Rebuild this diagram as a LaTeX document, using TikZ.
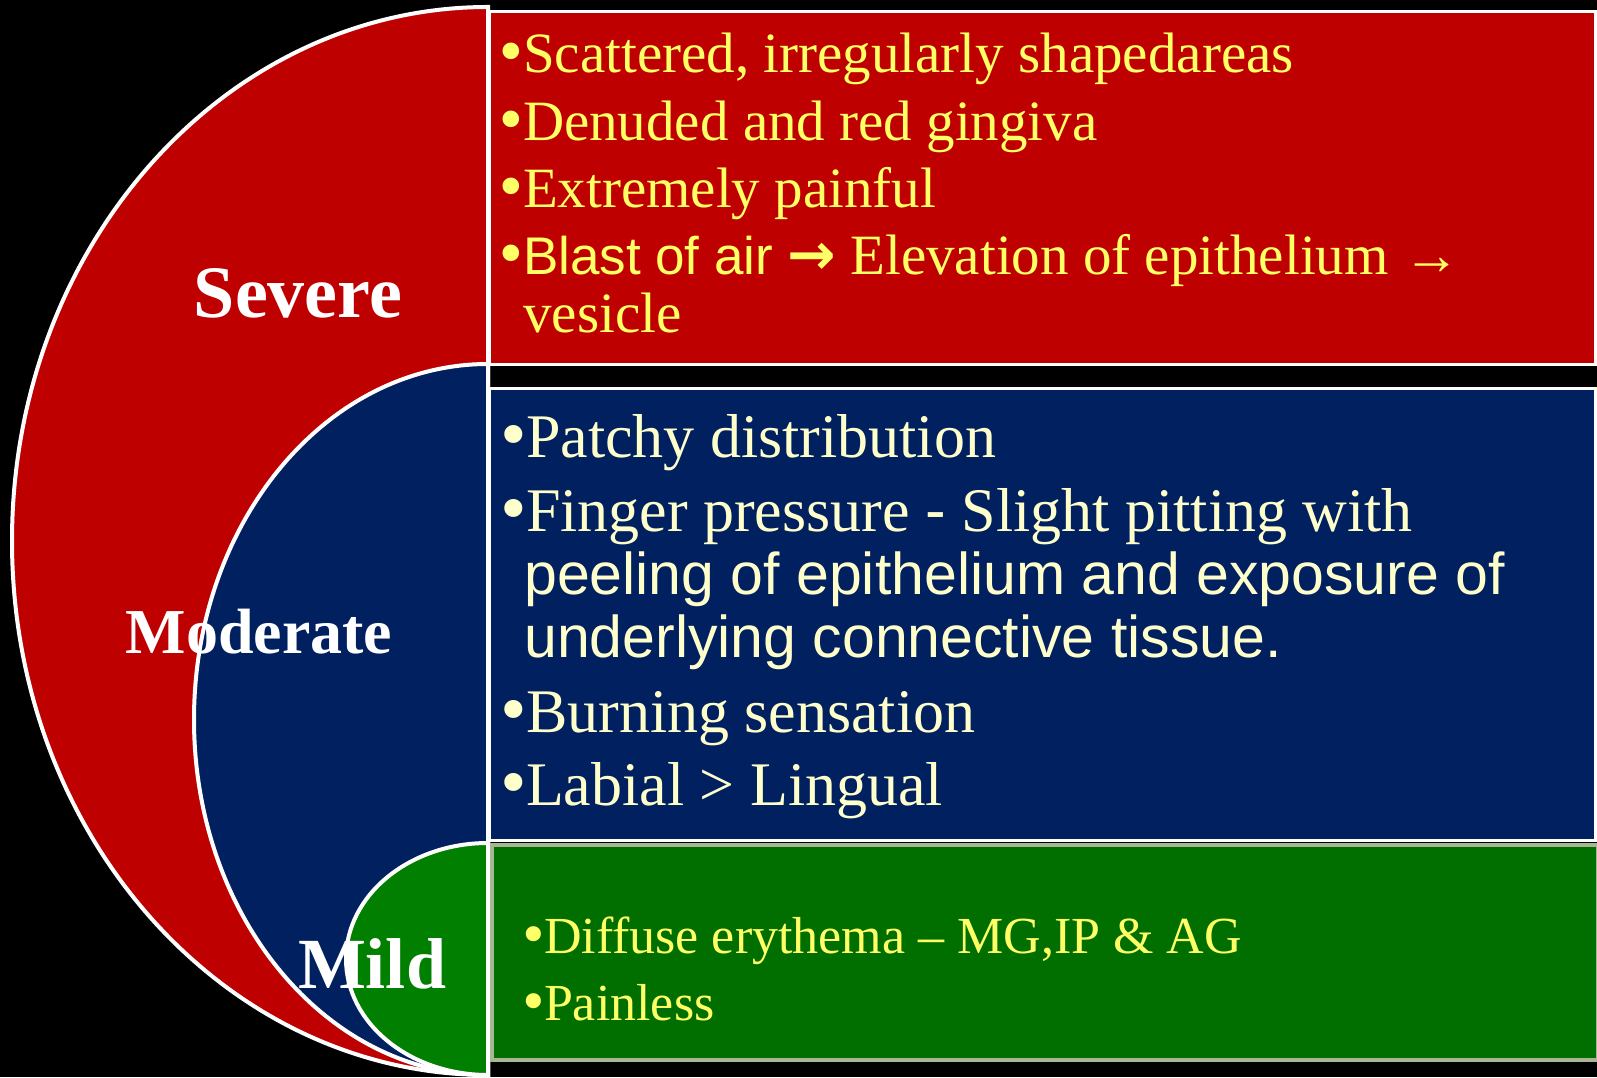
\documentclass[tikz,border=0pt]{standalone}
\usepackage{fontspec}
\setmainfont{Liberation Serif}
\newfontfamily\sansfont{Liberation Sans}
\newfontfamily\arrowfont{DejaVu Sans}
\usetikzlibrary{positioning}

\definecolor{sevred}{HTML}{BE0000}
\definecolor{modblue}{HTML}{002060}
\definecolor{mildgreen}{HTML}{007F00}
\definecolor{mildbox}{HTML}{006F00}
\definecolor{boxedge}{HTML}{A8B696}
\definecolor{txtyellow}{HTML}{FFFF66}
\definecolor{txtcream}{HTML}{FFFFCC}

% larger bullet than the serif font gives
\newcommand{\bul}{\makebox[0.4em][l]{\hspace{-0.1em}{\arrowfont •}}}

\begin{document}
\begin{tikzpicture}[
    x=1pt, y=1pt,
    lobe/.style={
        draw=white,
        line width=4pt
    },
    box/.style={
        draw=white,
        line width=3pt,
        minimum width=1106pt,
        anchor=north west,
        inner sep=0pt
    },
    grade/.style={
        text=white,
        inner sep=0pt,
        anchor=base
    },
    sevtxt/.style={
        anchor=base west, inner sep=0pt,
        text=txtyellow,
        font=\fontsize{57}{61}\selectfont
    },
    modtxt/.style={
        anchor=base west, inner sep=0pt,
        text=txtcream,
        font=\fontsize{62}{66}\selectfont
    },
    modsans/.style={
        modtxt,
        font=\sansfont\fontsize{59}{63}\selectfont
    },
    mildtxt/.style={
        anchor=base west, inner sep=0pt,
        text=txtyellow,
        font=\fontsize{52}{56}\selectfont
    }
]
\useasboundingbox (0,0) rectangle (1597,1077);
\fill[black] (0,0) rectangle (1597,1077);

% Severe: outer lobe and its box
\filldraw[lobe, fill=sevred]
    (488,1070) arc[start angle=90, end angle=270, x radius=476, y radius=534] -- cycle;
\node[box, fill=sevred, minimum height=353pt] (sevbox) at (488,1067) {};

% Moderate: middle lobe and its box
\filldraw[lobe, fill=modblue]
    (488,713) arc[start angle=90, end angle=270, x radius=294, y radius=355.5] -- cycle;
\node[box, fill=modblue, minimum height=452pt] (modbox) at (488,690) {};

% Mild: inner lobe and its box
\filldraw[lobe, fill=mildgreen]
    (488,234) arc[start angle=90, end angle=270, x radius=142, y radius=116] -- cycle;
\node[box, draw=boxedge, line width=4pt, fill=mildbox, minimum height=215pt] (mildbox) at (490,234) {};

% Grade labels
\node[grade, font=\bfseries\fontsize{74}{78}\selectfont] (severe) at (298,759) {Severe};
\node[grade, font=\bfseries\fontsize{64}{68}\selectfont] (moderate) at (259,423) {Moderate};
\node[grade, font=\bfseries\fontsize{72}{76}\selectfont] (mild) at (372,89) {Mild};

% Severe items
\foreach \i/\y/\t in {1/1004/{Scattered, irregularly shapedareas},
                      2/936/{Denuded and red gingiva},
                      3/869/{Extremely painful}} {
    \node[sevtxt] (sev\i) at (500,\y) {\bul\t};
}
\node[sevtxt] (sev4) at (500,802)
    {\bul{\sansfont\fontsize{53}{57}\selectfont Blast of air}
     {\arrowfont\bfseries\fontsize{58}{60}\selectfont →} Elevation of epithelium →};
\node[sevtxt] (sev5) at (523,744) {vesicle};

% Moderate items
\node[modtxt] (mod1) at (501,619) {\bul Patchy distribution};
\node[modtxt] (mod2) at (501,545)
    {\bul Finger pressure {\sansfont -} Slight pitting with};
\node[modsans] (mod3) at (524,482) {peeling of epithelium and exposure of};
\node[modsans] (mod4) at (524,419) {underlying connective tissue.};
\node[modtxt] (mod5) at (501,345) {\bul Burning sensation};
\node[modtxt] (mod6) at (501,272) {\bul Labial > Lingual};

% Mild items
\node[mildtxt] (mild1) at (523,124) {\bul Diffuse erythema – MG,IP \& AG};
\node[mildtxt] (mild2) at (523,57) {\bul Painless};
\end{tikzpicture}
\end{document}
